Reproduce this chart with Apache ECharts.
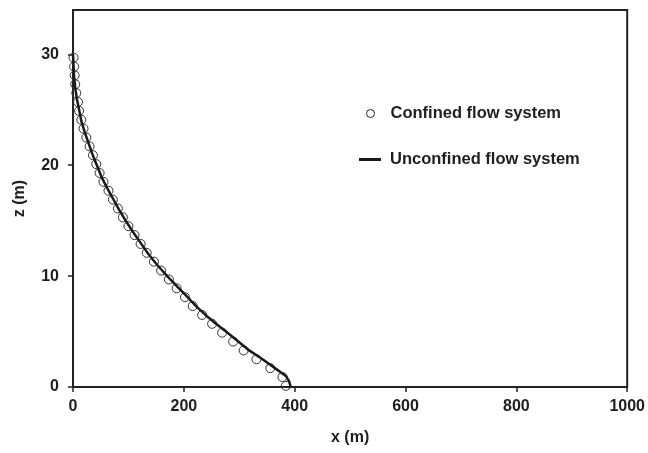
<!DOCTYPE html>
<html>
<head>
<meta charset="utf-8">
<script src="https://cdn.jsdelivr.net/npm/echarts@6/dist/echarts.min.js"></script>
<style>html,body{margin:0;padding:0;background:#fff}#c{width:648px;height:453px}</style>
</head>
<body>
<div id="c"></div>
<script>
// Confined flow system (circles)
var confinedZ = [0.1,0.9,1.7,2.5,3.3,4.1,4.9,5.7,6.5,7.3,8.1,8.9,9.7,10.5,11.3,12.1,12.9,13.7,14.5,15.3,16.1,16.9,17.7,18.5,19.3,20.1,20.9,21.7,22.5,23.3,24.1,24.9,25.7,26.5,27.3,28.1,28.9,29.7];
var confinedX = [384,378,356,331,308,289,269,251,233,216,202,187,173,159,146,133,122,111,100,90,81,72,64,55,48,42,36,30,24,19,15,11,9,6,4,3,2,1];
// Unconfined flow system (line)
var unconfinedZ = [0,0.5,1.0,1.5,2.5,3.3,4.2,5.0,5.7,6.5,7.3,8.2,9.0,10,11,12,13,14,15,16,17,18,19,20,21,22,23,24,25,26,27,28,29,30];
var unconfinedX = [393,390,384,370,342,318,296,276,258,239,222,205,189,170,152,136,122,108,95,83,72,61,51,43,35,28,21,15,11,7,4,2,1,0];
var xTicks = [0,200,400,600,800,1000];
var zTicks = [0,10,20,30];

var font = 'Liberation Sans, Arial, sans-serif';
var txt = '#1e1e1e';
function pairs(xs, zs){ var r=[]; for (var i=0;i<xs.length;i++) r.push([xs[i], zs[i]]); return r; }

var chart = echarts.init(document.getElementById('c'), null, {renderer:'canvas'});
chart.setOption({
  animation:false,
  backgroundColor:'#fff',
  grid:{left:73,right:19,top:10,bottom:66,show:true,borderColor:'#222',borderWidth:2,backgroundColor:'transparent'},
  legend:[
    {data:[{name:'Confined flow system',icon:'circle'}],left:361,top:100,itemWidth:8,itemHeight:8,
     itemStyle:{color:'transparent',borderColor:'#222',borderWidth:1},
     textStyle:{fontFamily:font,fontWeight:'bold',fontSize:16.5,color:txt,padding:[0,0,0,11]}},
    {data:[{name:'Unconfined flow system',icon:'rect'}],left:354,top:146,itemWidth:22,itemHeight:3,
     textStyle:{fontFamily:font,fontWeight:'bold',fontSize:16.5,color:txt,padding:[0,0,0,4]}}
  ],
  xAxis:{type:'value',min:0,max:1000,interval:200,
    name:'x (m)',nameLocation:'middle',nameGap:43,
    nameTextStyle:{fontFamily:font,fontWeight:'bold',fontSize:16,color:txt},
    axisLine:{show:true,lineStyle:{color:'#222',width:2}},
    axisTick:{show:true,inside:false,length:5,lineStyle:{color:'#222',width:1.5},customValues:xTicks},
    axisLabel:{margin:12,fontFamily:font,fontWeight:'bold',fontSize:16,color:txt,customValues:xTicks,
      formatter:function(v){return String(v);}},
    splitLine:{show:false}},
  yAxis:{type:'value',min:0,max:34,interval:10,
    name:'z (m)',nameLocation:'middle',nameGap:45,nameRotate:90,
    nameTextStyle:{fontFamily:font,fontWeight:'bold',fontSize:16,color:txt},
    axisLine:{show:true,lineStyle:{color:'#222',width:2}},
    axisTick:{show:true,inside:false,length:5,lineStyle:{color:'#222',width:1.5},customValues:zTicks},
    axisLabel:{margin:14,fontFamily:font,fontWeight:'bold',fontSize:16,color:txt,customValues:zTicks,
      formatter:function(v){return String(v);}},
    splitLine:{show:false}},
  series:[
    {name:'Confined flow system',type:'scatter',symbol:'circle',symbolSize:9,
     itemStyle:{color:'transparent',borderColor:'#333',borderWidth:1,opacity:1},
     data:pairs(confinedX, confinedZ),z:2},
    {name:'Unconfined flow system',type:'line',showSymbol:false,symbol:'none',
     lineStyle:{color:'#1a1a1a',width:2.5},itemStyle:{color:'#1a1a1a'},
     data:pairs(unconfinedX, unconfinedZ),z:3}
  ]
});
</script>
</body>
</html>
